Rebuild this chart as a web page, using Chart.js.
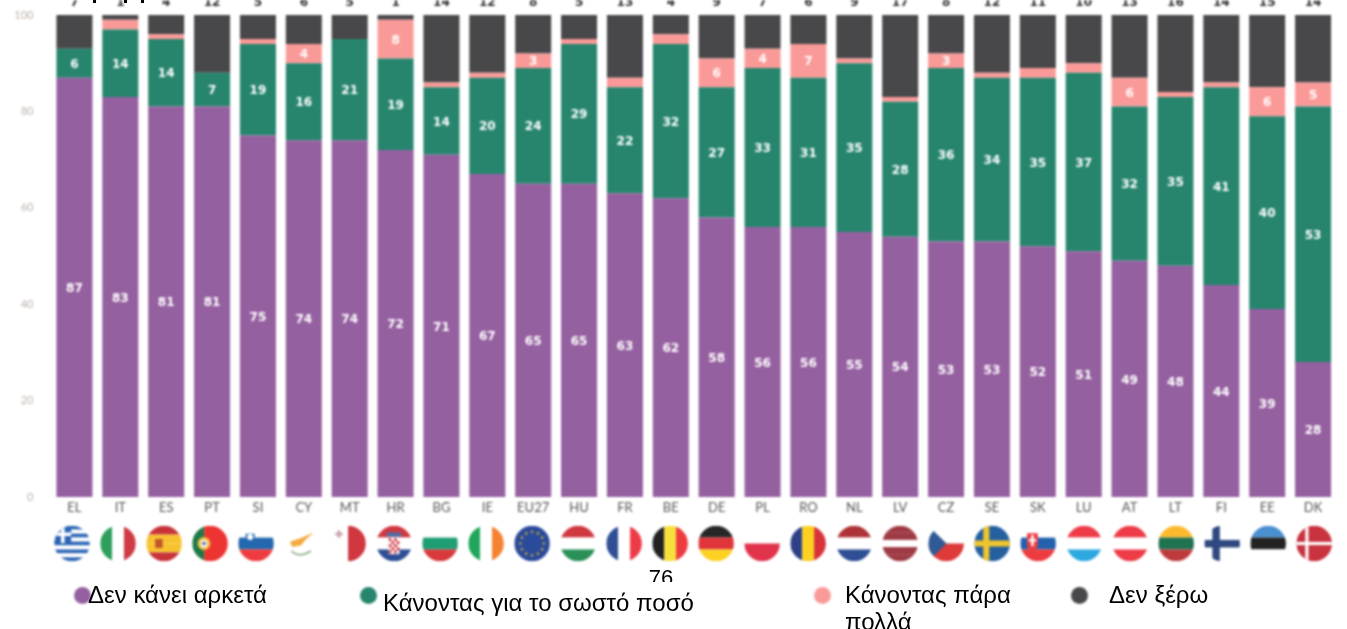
<!DOCTYPE html>
<html>
<head>
<meta charset="utf-8">
<script src="https://cdn.jsdelivr.net/npm/chart.js@4"></script>
<style>
  html, body { margin: 0; padding: 0; background: #fff; overflow: hidden; }
  #chartCanvas { position: absolute; left: 0; top: 0; filter: blur(0.85px); }
  .leg, .pageNo { position: absolute; font-family: "Liberation Sans", Arial, sans-serif; color: #000; }
  .leg { font-size: 24px; line-height: 27px; }
  .dot { position: absolute; width: 17px; height: 17px; border-radius: 50%; filter: blur(0.8px); }
  .pageNo { left: 640px; top: 566px; width: 42px; height: 16px; overflow: hidden; font-size: 22px; line-height: 24px; text-align: center; }
  .nick { position: absolute; top: 0; width: 3px; height: 3px; background: #000; }
</style>
</head>
<body>
<canvas id="chartCanvas" width="1347" height="629"></canvas>
<div class="pageNo">76</div>
<!-- bits of a cut-off line at the very top of the original -->
<div class="nick" style="left:93px"></div>
<div class="nick" style="left:124px"></div>
<div class="nick" style="left:141px"></div>
<div id="legendBox"></div>
<script>
const categories = ['EL','IT','ES','PT','SI','CY','MT','HR','BG','IE','EU27','HU','FR','BE','DE','PL','RO','NL','LV','CZ','SE','SK','LU','AT','LT','FI','EE','DK'];
const notEnough = [87,83,81,81,75,74,74,72,71,67,65,65,63,62,58,56,56,55,54,53,53,52,51,49,48,44,39,28];
const rightAmount = [6,14,14,7,19,16,21,19,14,20,24,29,22,32,27,33,31,35,28,36,34,35,37,32,35,41,40,53];
const tooMuch = [0,2,1,0,1,4,0,8,1,1,3,1,2,2,6,4,7,1,1,3,1,2,2,6,1,1,6,5];
const dontKnow = [7,1,4,12,5,6,5,1,14,12,8,5,13,4,9,7,6,9,17,8,12,11,10,13,16,14,15,14];
const seriesNames = ['Δεν κάνει αρκετά','Κάνοντας για το σωστό ποσό','Κάνοντας πάρα πολλά','Δεν ξέρω'];
const seriesColors = ['#9560A0','#27856E','#FA9A98','#48484A'];

// legend is laid out by hand, the original spacing is irregular
const legendSpots = [
  { dot: [74, 587],  text: [88, 581],  width: 200 },
  { dot: [360, 587], text: [383, 589], width: 330 },
  { dot: [814, 587], text: [845, 581], width: 180 },
  { dot: [1071, 587], text: [1109, 581], width: 150 }
];
const legendBox = document.getElementById('legendBox');
seriesNames.forEach((name, i) => {
  const spot = legendSpots[i];
  const dot = document.createElement('div');
  dot.className = 'dot';
  dot.style.cssText = `left:${spot.dot[0]}px;top:${spot.dot[1]}px;background:${seriesColors[i]}`;
  const text = document.createElement('div');
  text.className = 'leg';
  text.style.cssText = `left:${spot.text[0]}px;top:${spot.text[1]}px;width:${spot.width}px`;
  text.textContent = name;
  legendBox.append(dot, text);
});

// flag colours
const W = '#fff';
const stripes = {
  IT: ['v', ['#2E9E5B', W, '#CF3A44']],
  ES: ['h', ['#C8333A', '#F7C22F', '#F7C22F', '#C8333A']],
  SI: ['h', [W, '#2368AE', '#EE3B3F']],
  MT: ['v', [W, '#D0373F']],
  HR: ['h', ['#D0373F', W, '#2F4E94']],
  BG: ['h', [W, '#1F9E75', '#D8393B']],
  IE: ['v', ['#1FA65A', W, '#F58233']],
  EU27: ['h', ['#2B4A9B']],
  HU: ['h', ['#D0373F', W, '#2A9058']],
  FR: ['v', ['#2F4E94', W, '#EE3B48']],
  BE: ['v', ['#222', '#F7E03C', '#EE3B3F']],
  DE: ['h', ['#262626', '#E0353A', '#FCD122']],
  PL: ['h', [W, '#E2334C']],
  RO: ['v', ['#2F4186', '#FCD122', '#D8333A']],
  NL: ['h', ['#AE3338', W, '#2F4E94']],
  LV: ['h', ['#9E3A44', '#9E3A44', W, '#9E3A44', '#9E3A44']],
  CZ: ['h', [W, '#DE3A3A']],
  SE: ['h', ['#24609F']],
  SK: ['h', [W, '#2361AC', '#EE3B3F']],
  LU: ['h', ['#EE3B48', W, '#2EA8E0']],
  AT: ['h', ['#EE3B48', W, '#EE3B48']],
  LT: ['h', ['#FDB92E', '#1F7350', '#BE3B3C']],
  FI: ['h', [W]],
  EE: ['h', ['#4A8FD0', '#222', W]],
  DK: ['h', ['#C8333F']],
  EL: ['h', ['#2D66B5', W, '#2D66B5', W, '#2D66B5', W, '#2D66B5', W, '#2D66B5']],
  PT: ['v', ['#1E7A45', '#EE3333', '#EE3333']],
  CY: ['h', [W]]
};

function rect(c, color, x, y, w, h) {
  c.fillStyle = color;
  c.fillRect(x, y, w, h);
}

// the small emblems on top of the plain stripes, r is the flag radius
const emblems = {
  EL(c, r) {
    rect(c, '#2D66B5', -r, -r, r * 0.95, r * 0.98);
    rect(c, W, -r, -r * 0.62, r * 0.95, r * 0.2);
    rect(c, W, -r * 0.62, -r, r * 0.2, r * 0.98);
  },
  ES(c, r) {
    rect(c, '#C0562B', -r * 0.5, -r * 0.25, r * 0.42, r * 0.5);
  },
  PT(c, r) {
    c.fillStyle = '#F2C14A';
    c.beginPath(); c.arc(-r * 0.34, 0, r * 0.36, 0, Math.PI * 2); c.fill();
    rect(c, W, -r * 0.5, -r * 0.18, r * 0.32, r * 0.38);
    rect(c, '#2F4E94', -r * 0.42, -r * 0.08, r * 0.16, r * 0.16);
  },
  SI(c, r) {
    rect(c, '#2368AE', -r * 0.58, -r * 0.55, r * 0.5, r * 0.55);
    c.fillStyle = W;
    c.beginPath(); c.arc(-r * 0.33, -r * 0.36, r * 0.17, 0, Math.PI * 2); c.fill();
  },
  CY(c, r) {
    c.fillStyle = '#F4A93C';
    c.beginPath();
    c.moveTo(-r * 0.68, -r * 0.1);
    c.lineTo(-r * 0.1, -r * 0.3);
    c.lineTo(r * 0.65, -r * 0.62);
    c.lineTo(r * 0.2, -r * 0.22);
    c.lineTo(-r * 0.05, r * 0.1);
    c.lineTo(-r * 0.55, r * 0.2);
    c.fill();
    c.strokeStyle = '#7EA37A';
    c.lineWidth = 1.5;
    c.beginPath();
    c.moveTo(-r * 0.6, r * 0.42);
    c.quadraticCurveTo(-r * 0.15, r * 0.85, r * 0.5, r * 0.42);
    c.stroke();
  },
  MT(c, r) {
    rect(c, '#C9A0A8', -r * 0.72, -r * 0.6, r * 0.42, r * 0.14);
    rect(c, '#C9A0A8', -r * 0.58, -r * 0.74, r * 0.14, r * 0.42);
  },
  HR(c, r) {
    rect(c, W, -r * 0.3, -r * 0.35, r * 0.6, r * 0.95);
    c.fillStyle = '#D0373F';
    for (let row = 0; row < 5; row++) {
      for (let col = 0; col < 4; col++) {
        if ((row + col) % 2 === 0) c.fillRect(-r * 0.3 + col * r * 0.15, -r * 0.3 + row * r * 0.17, r * 0.15, r * 0.17);
      }
    }
    rect(c, '#4B6FA8', -r * 0.4, -r * 0.62, r * 0.8, r * 0.24);
  },
  EU27(c, r) {
    c.fillStyle = '#B9A93E';
    for (let i = 0; i < 12; i++) {
      const a = i * Math.PI / 6;
      c.beginPath(); c.arc(Math.cos(a) * r * 0.66, Math.sin(a) * r * 0.66, 1.3, 0, Math.PI * 2); c.fill();
    }
  },
  CZ(c, r) {
    c.fillStyle = '#2F5A96';
    c.beginPath(); c.moveTo(-r, -r); c.lineTo(r * 0.02, 0); c.lineTo(-r, r); c.fill();
  },
  SE(c, r) {
    rect(c, '#F0C52E', -r, -r * 0.17, r * 2, r * 0.34);
    rect(c, '#F0C52E', -r * 0.5, -r, r * 0.34, r * 2);
  },
  SK(c, r) {
    rect(c, '#EE3B3F', -r * 0.62, -r * 0.58, r * 0.6, r * 0.7);
    c.fillStyle = '#EE3B3F';
    c.beginPath(); c.arc(-r * 0.32, r * 0.1, r * 0.3, 0, Math.PI); c.fill();
    rect(c, W, -r * 0.39, -r * 0.48, r * 0.14, r * 0.62);
    rect(c, W, -r * 0.54, -r * 0.24, r * 0.44, r * 0.12);
  },
  FI(c, r) {
    rect(c, '#2F4880', -r, -r * 0.2, r * 2, r * 0.42);
    rect(c, '#2F4880', -r * 0.55, -r, r * 0.42, r * 2);
  },
  DK(c, r) {
    rect(c, W, -r, -r * 0.09, r * 2, r * 0.18);
    rect(c, W, -r * 0.5, -r, r * 0.18, r * 2);
  }
};

const flagRow = {
  id: 'flagRow',
  afterDraw(chart) {
    const c = chart.ctx;
    const xAxis = chart.scales.x;
    const r = 17.8;
    categories.forEach((code, i) => {
      const [dir, bands] = stripes[code];
      c.save();
      // the flag row in the original is spaced a little wider than the bars
      c.translate(xAxis.getPixelForValue(i) - 2.4 + 0.13 * i, 543.5);
      c.beginPath();
      c.arc(0, 0, r, 0, Math.PI * 2);
      c.clip();
      const step = 2 * r / bands.length;
      bands.forEach((color, b) => {
        c.fillStyle = color;
        if (dir === 'h') c.fillRect(-r, -r + b * step, 2 * r, step);
        else c.fillRect(-r + b * step, -r, step, 2 * r);
      });
      if (emblems[code]) emblems[code](c, r);
      c.restore();
    });
  }
};

// white numbers inside the segments, dark numbers over the top of the bars
const valueLabels = {
  id: 'valueLabels',
  afterDatasetsDraw(chart) {
    const c = chart.ctx;
    c.save();
    c.textAlign = 'center';
    c.textBaseline = 'middle';
    c.font = 'bold 12px "DejaVu Sans"';
    chart.data.datasets.forEach((ds, d) => {
      const bars = chart.getDatasetMeta(d).data;
      ds.data.forEach((v, i) => {
        if (d === 3) {
          c.fillStyle = '#2E2E2E';
          c.fillText(v, bars[i].x, 3);
        } else if (v >= 3) {
          c.fillStyle = '#fff';
          c.fillText(v, bars[i].x, (bars[i].y + bars[i].base) / 2 + 1.5);
        }
      });
    });
    c.restore();
  }
};

const ctx = document.getElementById('chartCanvas').getContext('2d');
new Chart(ctx, {
  type: 'bar',
  data: {
    labels: categories,
    datasets: [notEnough, rightAmount, tooMuch, dontKnow].map((data, i) => ({
      label: seriesNames[i],
      data: data,
      backgroundColor: seriesColors[i],
      barPercentage: 0.785,
      categoryPercentage: 1
    }))
  },
  options: {
    responsive: false,
    animation: false,
    layout: { padding: { top: 15, right: 11 } },
    plugins: { legend: { display: false }, tooltip: { enabled: false } },
    scales: {
      x: {
        stacked: true,
        grid: { display: false, drawTicks: false },
        border: { display: false },
        ticks: { color: '#555', font: { family: 'Lato', size: 13 }, padding: 3, maxRotation: 0, autoSkip: false },
        afterFit(scale) { scale.height = 132; }
      },
      y: {
        stacked: true,
        min: 0,
        max: 100,
        grid: { display: false, drawTicks: false },
        border: { display: false },
        ticks: { stepSize: 20, color: '#BDB2AA', font: { family: 'Lato', size: 11 }, padding: 18 },
        afterFit(scale) {
          scale.width = 51.5;
          scale.paddingTop = 0;
          scale.paddingBottom = 0;
        }
      }
    }
  },
  plugins: [valueLabels, flagRow]
});
</script>
</body>
</html>
